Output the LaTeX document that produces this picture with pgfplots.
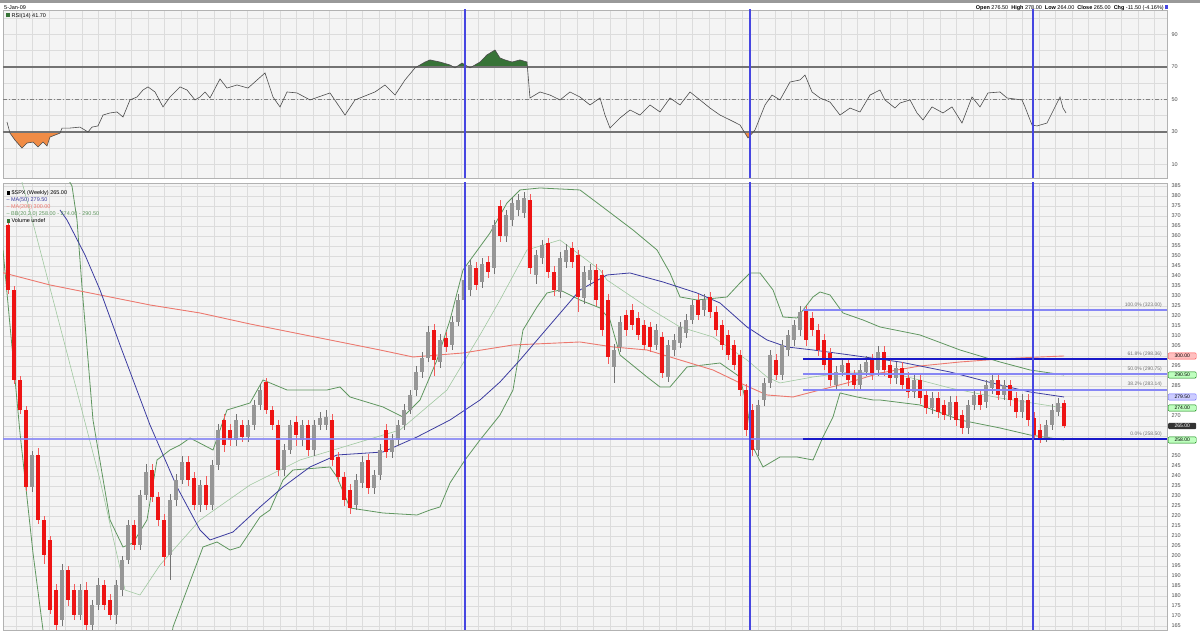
\documentclass[border=0pt]{standalone}
\usepackage{fontspec}
\setmainfont{Liberation Sans}
\usepackage{pgfplots}
\usepackage{pgfplotstable}
\pgfplotsset{compat=1.18}

\definecolor{gridc}{RGB}{220,220,220}
\definecolor{panelbg}{RGB}{244,244,244}
\definecolor{upc}{RGB}{150,150,150}
\definecolor{dnc}{RGB}{238,20,20}
\definecolor{ma50}{RGB}{60,60,160}
\definecolor{ma200}{RGB}{236,120,110}
\definecolor{bbc}{RGB}{95,150,95}
\definecolor{bbmid}{RGB}{160,200,160}
\definecolor{vline}{RGB}{70,70,225}
\definecolor{fibdark}{RGB}{25,25,200}
\definecolor{fiblight}{RGB}{135,135,245}
\definecolor{rsiorange}{RGB}{240,140,70}
\definecolor{rsigreen}{RGB}{55,115,55}

% weekly candles: x = position, o h l c
\pgfplotstableread{
x o h l c
8 365.5 367.5 331 333
14 333 335 286 288
20 288 290 271 273
26 273 275 232.5 234.5
32 234.5 252.5 232 250.5
38 250.5 254 216 218
44 218 220 196 200.5
50 208 210 171 173
56 183 186 163 165.5
62 168 196 165 193
68 193 195 175 178
74 183 186 168 170.5
80 170.5 186 168 183
86 183 187 163 165.5
92 165.5 178 163 175.5
98 175.5 189 173 185.5
104 185.5 188 173 175.5
110 178 181 168 170.5
116 170.5 188 166 185.5
122 183 200 180 198
128 198 218 196 215.5
134 215.5 218 203 205.5
140 205.5 233 203 230.5
146 230.5 246 228 242
152 243 246 227 229.5
158 229.5 232 215 218
164 218 221 195 199.5
170 200.5 231 188 228
176 228 241 225 238
182 238 250 236 247
188 247 250 235 238
194 239 242 223 225.5
200 225.5 238 222 235.5
206 235.5 240 223 225.5
212 225.5 248 223 245.5
218 245.5 266 243 263
224 268 271 252 255.5
230 263 266 255 258
236 258 271 255 268
242 265.5 268 257 259.5
248 259.5 268 257 265.5
254 265.5 278 263 275.5
260 275.5 286 273 283
266 287 289 271 273
272 273 275 263 265.5
278 265.5 268 240 243
284 243 256 240 253
290 253 268 251 265.5
296 267 270 255 260.5
302 258 268 255 265.5
308 265.5 268 250 253
314 253 268 250 265.5
320 265.5 272 263 269
326 265.5 273 263 269.5
332 268 271 245 248
338 249.5 252 237 239.5
344 239.5 242 225 228
350 233 236 221 224
356 225.5 241 223 238
362 236.5 250 234 247
368 248 251 231 234
374 234 243 231 240.5
380 240.5 256 238 253
386 263 266 249 252
392 252 261 249 258
398 258 268 255 265.5
404 265.5 276 263 273
410 273 283 271 280.5
416 283 295 280 292
422 292 302 289 299
428 299 315 297 312
434 313 316 290 298
440 297 311 294 308
446 309 312 302 304.5
452 305.5 320 303 317
458 317 331 315 328
464 328 341 322 338
470 333 348 330 345.5
476 344 347 333 335.5
482 337 349 334 346
488 347 350 339 342
494 344 368 341 365.5
500 375 378 357 360
506 360 373 357 370.5
512 368 379 365 376.5
518 373 381 370 378
524 371.5 382 369 379
530 378 381 341 344
536 340.5 353 336 350.5
542 349 358 346 355.5
548 356.5 359 339 342
554 342 345 330 333
560 332 352 329 349
566 347 356 344 353
572 354 357 344 347
578 350.5 353 322 329.5
584 329 345 326 342
590 338 346 335 343
596 343 346 325 328
602 340.5 343 310 313
608 328 331 296 299.5
614 294.5 306 286.5 303
620 304.5 320 302 317
626 320.5 323 310 313
632 323 326 313 315.5
638 319 322 308 310.5
644 315.5 318 303 305.5
650 314.5 317 302 304.5
656 305.5 316 303 313
662 309.5 312 289 291.5
668 289.5 308 287 305.5
674 303 311 300 308
680 306.5 317 304 314.5
686 311.5 321 309 318
692 318 328 316 325.5
698 328 331 318 320.5
704 323 331 320 328
710 329.5 332 319 322
716 322 325 310 313
722 315.5 318 303 305.5
728 310.5 313 298 300.5
734 305.5 308 293 295.5
740 300.5 303 280 283
746 283 286 260 263
752 273 276 250 253
758 253 278 250 275.5
764 278 289 275 286.5
770 286.5 303 284 300.5
776 298 301 288 290.5
782 290.5 308 288 305.5
788 303 313 300 310.5
794 308 318 305 315.5
800 313 325 310 322
806 323 325 305 308
812 319 322 310 313
818 313 316 300 303
824 308 311 293 295.5
830 301.5 304 285 288
836 285.5 295 283 292
842 292 298 290 295.5
848 296.5 299 285 288
854 290.5 293 283 285.5
860 285.5 296 283 293
866 292 300 290 297
872 298 301 288 290.5
878 293 305 290 302
884 302 305 290 293
890 295.5 298 286 289
896 289 297 286 294
902 294 297 283 285.5
908 289 292 279 282
914 282 291 279 288
920 288 291 276 279
926 280.5 283 271 274
932 274 282 271 279
938 279 282 269 272
944 275.5 278 268 270.5
950 270.5 280 268 277
956 277 280 265 268
962 270.5 273 261 264
968 264 278 261 275.5
974 275.5 283 273 280.5
980 280.5 283 273 275.5
986 277 288 274 285.5
992 284 291 281 288
998 288 291 278 280.5
1004 280.5 288 278 285.5
1010 285.5 288 275 278
1016 279 282 269 272
1022 272 281 269 278
1028 278 281 265 268
1034 269 272 258 260.5
1040 263 266 256.5 259
1046 259 268 257 265.5
1052 265.5 276 263 273
1058 272 279 270 276.5
1064 276.5 278 264 265
}\candles

\pgfplotsset{
  panel/.style={
    scale only axis, width=1164pt, xmin=3, xmax=1167,
    axis background/.style={fill=panelbg},
    xtick={16,32.5,...,1160}, xticklabels={},
    major tick length=0pt, minor tick length=0pt,
    grid=both, grid style={gridc, line width=0.5pt}, minor grid style={gridc, line width=0.5pt},
    yticklabel pos=right,
    tick label style={font=\fontsize{5.5}{6}\selectfont, text=black!70},
    yticklabel style={xshift=1pt},
    axis line style={draw=black!30, line width=0.8pt},
    clip mode=individual,
    /pgf/number format/assume math mode=true,
    /pgf/number format/fixed, /pgf/number format/precision=0,
  },
  wick/.style={draw=none, mark=none, forget plot,
    error bars/.cd, y dir=both, y explicit, error mark=none,
    error bar style={draw=#1, line width=0.7pt}},
  body/.style={draw=none, mark=none, forget plot,
    error bars/.cd, y dir=both, y explicit, error mark=none,
    error bar style={draw=#1, line width=3.4pt}},
}

\begin{document}
\begin{tikzpicture}[x=1pt,y=1pt]
\path[use as bounding box] (0,0) rectangle (1200,630);
\fill[black!40] (0,627) rectangle (1200,630);

% ---------------- RSI panel ----------------
\begin{axis}[panel, at={(3pt,452pt)}, anchor=south west, height=168pt,
  ymin=1.7, ymax=105,
  ytick={10,30,50,70,90}, minor ytick={0,20,40,60,80,100}]
% oversold / overbought areas
\addplot[fill=rsiorange, draw=none] coordinates {(9.7,30) (10,29.3) (15,25.0) (22,20.1) (27,23.2) (33,23.8) (38,20.8) (43,23.8) (47,21.4) (50,26.9) (55,28.1) (60,29.3) (60.5,30)} -- cycle;
\addplot[fill=rsiorange, draw=none] coordinates {(744.3,30) (748,26.3) (753.3,30)} -- cycle;
\addplot[fill=rsigreen, draw=none] coordinates {(416.7,70) (425,73.0) (430,74.3) (440,73.0) (450,71.2) (453.3,70)} -- cycle;
\addplot[fill=rsigreen, draw=none] coordinates {(456.4,70) (462,72.4) (468.4,70)} -- cycle;
\addplot[fill=rsigreen, draw=none] coordinates {(471.7,70) (480,73.0) (487,77.4) (495,80.4) (500,75.5) (505,74.3) (512,73.0) (520,74.3) (527,73.0) (527.4,70)} -- cycle;
\addplot[draw=black!55, line width=1.5pt] coordinates {(3,70) (1167,70)};
\addplot[draw=black!55, line width=1.5pt] coordinates {(3,30) (1167,30)};
\addplot[draw=black!50, line width=0.8pt, dash pattern=on 4pt off 2pt on 1pt off 2pt] coordinates {(3,50) (1167,50)};
\addplot[draw=black!70, line width=0.6pt] coordinates {
(7,36.1) (10,29.3) (15,25.0) (22,20.1) (27,23.2) (33,23.8) (38,20.8) (43,23.8) (47,21.4)
(50,26.9) (55,28.1) (60,29.3) (62,32.4) (70,32.4) (80,33.0) (88,30.0) (92,33.0) (98,33.7)
(103,40.4) (110,41.7) (117,42.3) (123,39.2) (130,49.7) (137,51.5) (143,55.8) (148,57.7)
(155,54.6) (163,45.4) (170,51.5) (180,57.7) (187,55.8) (195,49.7) (200,51.5) (205,54.6)
(210,50.9) (220,62.6) (227,57.0) (237,58.9) (248,57.0) (265,66.3) (273,51.5) (280,45.4)
(287,54.6) (297,54.0) (310,49.7) (330,54.0) (345,40.4) (355,49.7) (375,54.6) (385,58.9)
(395,52.7) (405,62.0) (415,69.4) (425,73.0) (430,74.3) (440,73.0) (450,71.2) (455,69.4)
(462,72.4) (470,69.4) (480,73.0) (487,77.4) (495,80.4) (500,75.5) (505,74.3) (512,73.0)
(520,74.3) (527,73.0) (530,50.9) (540,54.6) (550,52.7) (560,49.7) (570,54.6) (580,51.5)
(590,46.6) (600,50.9) (605,40.4) (610,32.4) (620,38.6) (630,43.5) (640,40.4) (650,46.6)
(660,42.3) (670,50.9) (680,46.6) (690,54.6) (700,49.7) (710,44.7) (720,40.4) (730,37.4)
(740,34.3) (748,26.3) (755,31.2) (765,46.6) (772,52.7) (780,49.7) (790,60.7) (800,62.0)
(805,65.0) (812,54.6) (820,50.9) (830,48.4) (840,40.4) (850,44.7) (860,42.3) (870,52.7)
(880,55.8) (885,49.7) (895,44.7) (900,47.8) (910,49.7) (917,41.7) (923,37.4) (932,45.4)
(943,41.7) (952,45.4) (962,35.5) (972,51.5) (980,45.4) (988,54.0) (1000,54.6) (1007,50.9)
(1022,49.7) (1025,45.4) (1032,34.3) (1037,33.7) (1047,35.5) (1060,51.5) (1063,44.7) (1066,41.7)
};
\addplot[vline, line width=2pt] coordinates {(465,0) (465,110)};
\addplot[vline, line width=2pt] coordinates {(750,0) (750,110)};
\addplot[vline, line width=2pt] coordinates {(1033,0) (1033,110)};
\end{axis}

% ---------------- price panel ----------------
\begin{axis}[panel, at={(3pt,0pt)}, anchor=south west, height=447pt,
  ymin=163, ymax=386.5,
  ytick={165,170,...,250,270,285,295,305,310,...,385},
  minor ytick={255,260,265,275,280,290,300}]
% Bollinger bands
\addplot[bbmid, line width=0.6pt] coordinates {
(15,400) (33,366.5) (67,301.5) (100,238) (125,183) (140,180.5) (160,195.5) (200,218)
(250,235.5) (300,248) (350,255.5) (400,263) (447,283) (480,310.5) (500,328) (527,353)
(560,358) (600,343) (607,338) (647,324.5) (680,314.5) (713,309.5) (747,298) (767,289.5)
(780,286.5) (813,289.5) (850,292) (900,290.5) (950,284) (1000,279) (1064,274)};
\addplot[bbc, line width=0.8pt] coordinates {
(55,400) (72,385) (77,368) (82,334.5) (93,268) (110,218) (123,204.5) (133,206.5) (147,218)
(157,248) (170,253) (180,255.5) (190,259) (213,253) (227,273) (250,276.5) (263,288)
(287,283) (327,283) (340,284.5) (350,279.5) (383,274.5) (403,269.5) (420,278) (437,298)
(450,318) (463,343) (490,361.5) (507,376.5) (520,383) (540,384) (580,383) (600,375.5)
(633,363) (657,353) (670,341.5) (680,329.5) (697,328) (727,329.5) (740,336.5) (750,341.5)
(760,341.5) (773,333) (783,319.5) (797,319) (813,329.5) (820,332) (830,330.5) (843,321.5)
(863,318) (880,314.5) (920,310.5) (960,303) (1000,297) (1030,293) (1064,290.5)};
\addplot[bbc, line width=0.8pt] coordinates {
(3,353) (20,261.5) (33,201.5) (43,163) (60,98) (100,28) (140,78) (165,138) (173,164.5)
(203,204.5) (217,207) (230,203) (240,204.5) (260,219.5) (270,223) (283,238) (293,243)
(330,244.5) (337,239.5) (350,224) (383,221.5) (417,220.5) (430,223) (440,224.5) (450,236.5)
(465,248) (480,258) (500,270.5) (513,283) (523,313) (537,324.5) (547,331.5) (560,333)
(580,328) (600,324) (610,318) (620,300.5) (647,289.5) (660,284.5) (670,284.5) (687,294.5)
(720,296.5) (740,289.5) (747,274.5) (753,254.5) (763,244.5) (780,249.5) (797,249.5)
(813,248) (823,259.5) (833,269.5) (840,281.5) (857,279.5) (873,278) (880,278) (920,275.5)
(960,268) (1000,264) (1030,260.5) (1064,258)};
% moving averages
\addplot[ma200, line width=0.9pt] coordinates {
(0,342) (50,335.5) (100,330.5) (150,325.5) (200,321.5) (250,316) (300,311) (350,306)
(380,303) (413,299.5) (463,301.5) (513,305.5) (580,307) (613,304.5) (647,303) (680,298)
(713,293) (740,286.5) (767,280.5) (793,279.5) (820,283) (847,286.5) (880,291.5) (920,295)
(960,297) (1000,298.5) (1040,299.5) (1064,300)};
\addplot[ma50, line width=0.8pt] coordinates {
(60,373) (67,368) (85,350.5) (100,333) (120,305.5) (150,265.5) (177,234.5) (200,213)
(210,208) (233,212) (260,224.5) (283,234.5) (310,244.5) (337,250.5) (383,252) (417,259.5)
(450,268) (480,278) (500,287) (520,298) (550,315.5) (580,333) (607,340.5) (630,341.5)
(663,337) (697,331.5) (720,326.5) (747,314.5) (767,308) (787,304.5) (813,303) (850,300.5)
(900,297) (950,292) (1000,285.5) (1030,282) (1064,279.5)};
% candles
\addplot[wick=black!55] table[x=x, y expr={(\thisrow{h}+\thisrow{l})/2}, y error expr={(\thisrow{h}-\thisrow{l})/2},
  restrict expr to domain={\thisrow{c}-\thisrow{o}}{0:1000}] {\candles};
\addplot[wick=dnc!70] table[x=x, y expr={(\thisrow{h}+\thisrow{l})/2}, y error expr={(\thisrow{h}-\thisrow{l})/2},
  restrict expr to domain={\thisrow{c}-\thisrow{o}}{-1000:-0.001}] {\candles};
\addplot[body=upc] table[x=x, y expr={(\thisrow{o}+\thisrow{c})/2}, y error expr={abs(\thisrow{c}-\thisrow{o})/2},
  restrict expr to domain={\thisrow{c}-\thisrow{o}}{0:1000}] {\candles};
\addplot[body=dnc] table[x=x, y expr={(\thisrow{o}+\thisrow{c})/2}, y error expr={abs(\thisrow{c}-\thisrow{o})/2},
  restrict expr to domain={\thisrow{c}-\thisrow{o}}{-1000:-0.001}] {\candles};
% support line and Fibonacci retracement
\addplot[fiblight, line width=2.4pt, opacity=0.85] coordinates {(3,258.5) (1167,258.5)};
\addplot[fiblight, line width=2.4pt] coordinates {(803,323) (1167,323)};
\addplot[fibdark, line width=1.6pt] coordinates {(803,298.4) (1167,298.4)};
\addplot[fiblight, line width=2pt] coordinates {(803,290.75) (1167,290.75)};
\addplot[fiblight, line width=2pt] coordinates {(803,283.1) (1167,283.1)};
\addplot[fibdark, line width=1.6pt] coordinates {(803,258.5) (1167,258.5)};
\addplot[vline, line width=2pt] coordinates {(465,150) (465,400)};
\addplot[vline, line width=2pt] coordinates {(750,150) (750,400)};
\addplot[vline, line width=2pt] coordinates {(1033,150) (1033,400)};
\begin{scope}[every node/.style={font=\fontsize{5}{5.5}\selectfont, text=black!55, anchor=south east, inner sep=1pt}]
\node at (axis cs:1163,323.8) {100.0\% (323.00)};
\node at (axis cs:1163,299.2) {61.8\% (298.36)};
\node at (axis cs:1163,291.6) {50.0\% (290.75)};
\node at (axis cs:1163,283.9) {38.2\% (283.14)};
\node at (axis cs:1163,259.3) {0.0\% (258.50)};
\end{scope}
\node[anchor=north west, align=left, inner sep=1pt, font=\fontsize{5.5}{7}\selectfont]
  at (rel axis cs:0.002,0.985) {%
  \textcolor{black}{\rule{3.5pt}{3.5pt}} \$SPX (Weekly) 265.00\\
  \textcolor{ma50}{-- MA(50) 279.50}\\
  \textcolor{ma200}{-- MA(200) 300.00}\\
  \textcolor{bbc}{-- BB(20,2.0) 258.00 - 274.00 - 290.50}\\
  \textcolor{rsigreen}{\rule{3.5pt}{3.5pt}} Volume undef};
\coordinate (b1) at (axis cs:1167,300);
\coordinate (b2) at (axis cs:1167,290.5);
\coordinate (b3) at (axis cs:1167,279.5);
\coordinate (b4) at (axis cs:1167,274);
\coordinate (b5) at (axis cs:1167,265);
\coordinate (b6) at (axis cs:1167,258);
\end{axis}

% value tags on the right edge
\begin{scope}[every node/.style={anchor=west, font=\fontsize{5}{5.5}\selectfont, inner sep=1.3pt, rounded corners=1pt, minimum width=28pt}]
\node[fill=red!25, draw=red!70] at ([xshift=1pt]b1) {300.00};
\node[fill=green!25, draw=green!50!black] at ([xshift=1pt]b2) {290.50};
\node[fill=blue!20, draw=blue!60] at ([xshift=1pt]b3) {279.50};
\node[fill=green!25, draw=green!50!black] at ([xshift=1pt]b4) {274.00};
\node[fill=black!80, text=white] at ([xshift=1pt]b5) {265.00};
\node[fill=green!25, draw=green!50!black] at ([xshift=1pt]b6) {258.00};
\end{scope}

% header and panel label
\node[anchor=west, font=\fontsize{5.5}{6}\selectfont, inner sep=0] at (4,622) {5-Jan-09};
\node[anchor=east, font=\fontsize{5.5}{6}\selectfont, inner sep=0] at (1168,622)
  {\textbf{Open} 276.50 \ \textbf{High} 278.00 \ \textbf{Low} 264.00 \ \textbf{Close} 265.00 \ \textbf{Chg} -11.50 (-4.16\%) \textcolor{vline}{\rule{2.5pt}{4pt}}};
\node[anchor=west, font=\fontsize{5.5}{6}\selectfont, inner sep=0] at (6,614)
  {\textcolor{rsigreen}{\rule{4pt}{4pt}} RSI(14) 41.70};
\end{tikzpicture}
\end{document}
